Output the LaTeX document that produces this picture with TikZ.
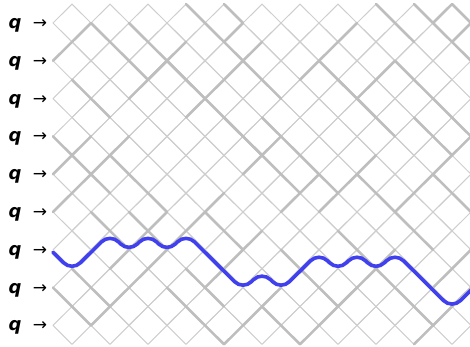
\documentclass[tikz,border=0pt]{standalone}
\usepackage{fontspec}
\newfontfamily\dejavu{DejaVu Sans}
\definecolor{thinc}{RGB}{206,206,206}
\definecolor{thickc}{RGB}{190,190,190}
\definecolor{bluec}{RGB}{64,64,238}
\tikzset{
  thinedge/.style={draw=thinc, line width=1pt, line join=round},
  thickedge/.style={draw=thickc, line width=2.6pt, line cap=round},
  bluepath/.style={draw=bluec, line width=3.6pt, line cap=round, rounded corners=12pt},
  qlab/.style={font=\dejavu\bfseries\itshape\fontsize{18}{20}\selectfont, anchor=base, inner sep=0pt},
  arlab/.style={font=\dejavu\fontsize{17}{20}\selectfont, anchor=base, inner sep=0pt}
}
\begin{document}
\begin{tikzpicture}[x=1pt,y=1pt]
\useasboundingbox (0,0) rectangle (470,346);
\begin{scope}[shift={(53,323)}, x={(19pt,0pt)}, y={(0pt,-18.9pt)}]
  % thin lattice
  \foreach \r in {0,...,16}{
    \foreach \c in {1,...,21}{
      \pgfmathtruncatemacro{\pp}{mod(\c+\r,2)}
      \ifnum\pp=1
        \draw[thinedge] (\c-1,\r) -- (\c,\r-1) -- (\c+1,\r) -- (\c,\r+1) -- cycle;
      \fi
    }
  }
  % thick runs: from (a,b) to (c,d)
  \foreach \a/\b/\c/\d in {
    2/0/5/3, 4/0/13/9, 7/-1/10/2, 9/-1/10/0, 17/-1/19/1,
    19/-1/22/2, 21/-1/22/0, 0/6/3/9, 1/13/3/15, 6/14/9/17,
    11/5/15/9, 14/2/17/5, 16/8/20/12, 12/12/15/15, 17/13/20/16,
    3/7/6/10, 8/10/10/12, 19/5/21/7, 0/14/2/16,
    0/2/2/0, 7/5/11/1, 20/0/21/-1, 21/1/22/0, 13/3/16/0,
    1/9/4/6, 5/13/9/9, 14/10/17/7, 18/10/22/6, 9/17/12/14,
    2/16/5/13, 15/15/18/12, 0/10/1/9, 10/8/12/6, 19/17/22/14,
    9/1/10/0, 5/3/7/1,
    6/2/8/4, 10/2/12/4, 15/3/18/6, 20/4/22/6, 1/3/3/5, 4/10/6/12,
    18/2/20/4, 0/8/2/6, 3/13/6/10, 8/14/11/11, 12/10/14/8, 16/4/18/2,
    13/17/16/14, 20/14/22/12, 4/4/6/2, 7/13/9/15, 11/15/13/17,
    15/11/17/13, 20/8/22/10, 9/5/11/7, 2/10/4/12}{
    \draw[thickedge] (\a,\b) -- (\c,\d);
  }
  % blue path
  \draw[bluepath, yshift=-2.5pt] (0,12) -- (1,13) -- (3,11) -- (4,12) -- (5,11) -- (6,12) -- (7,11)
    -- (10,14) -- (11,13) -- (12,14) -- (14,12) -- (15,13) -- (16,12) -- (17,13)
    -- (18,12) -- (21,15) -- (22,14);
\end{scope}
% labels
\foreach \k in {0,...,8}{
  \node[qlab] (q\k) at (15, {346-23-37.8*\k-5.5}) {q};
  \node[arlab] (a\k) at (40, {346-23-37.8*\k-5.5}) {→};
}
\end{tikzpicture}
\end{document}
